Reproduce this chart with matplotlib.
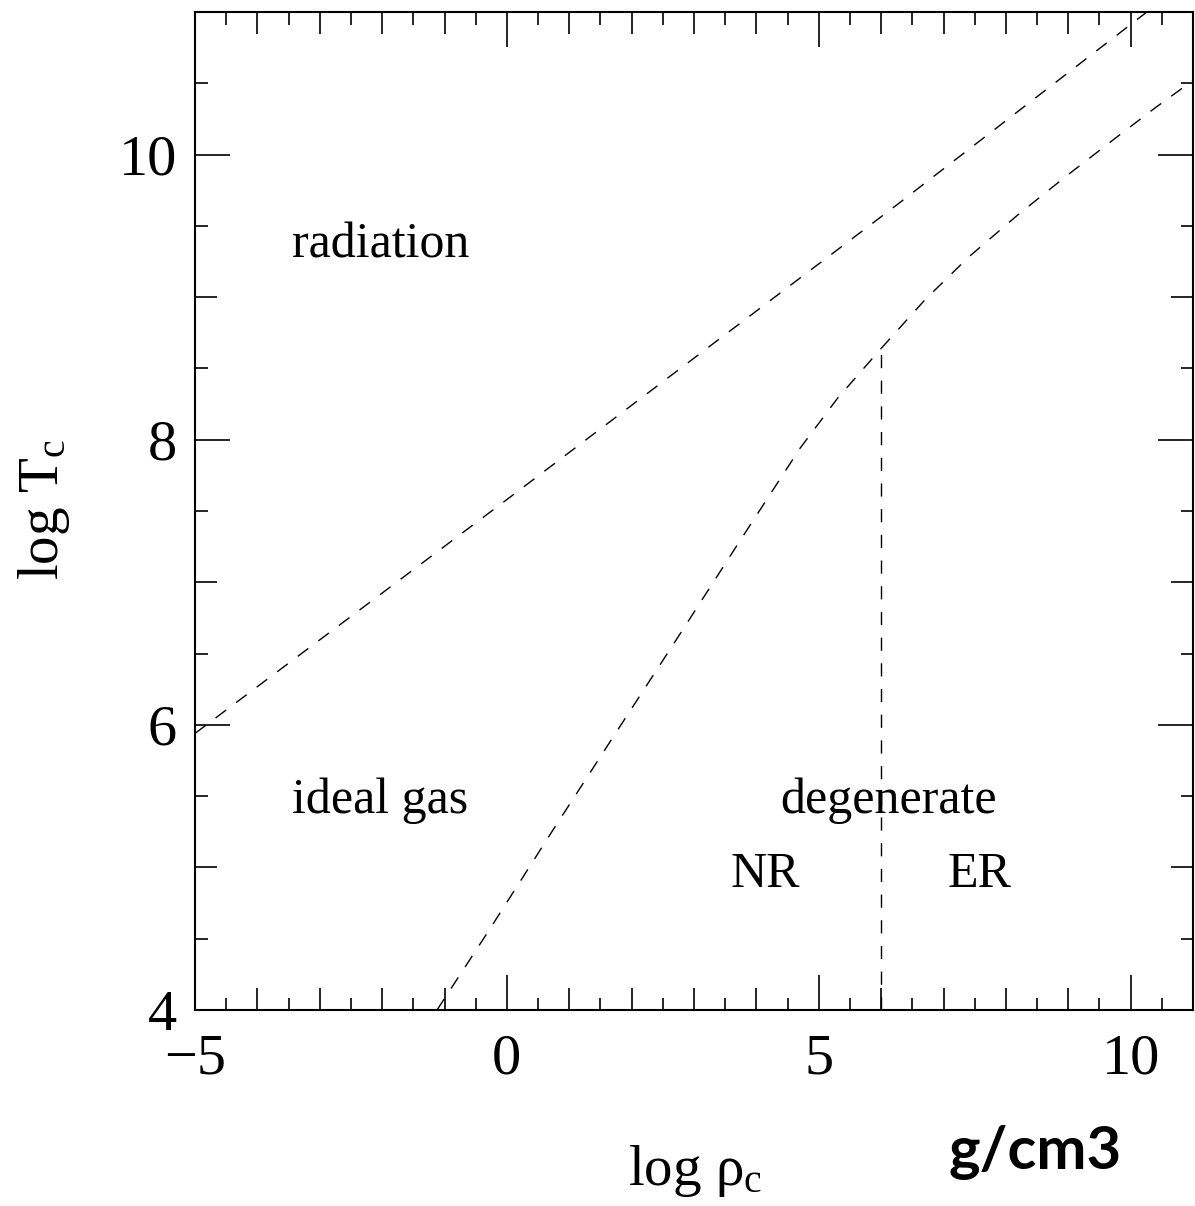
import matplotlib
matplotlib.use("Agg")
import matplotlib.pyplot as plt
from matplotlib.ticker import MultipleLocator, FuncFormatter

# boundaries (log rho_c, log T_c)
rad_x = [-5.0, 0.06, 6.23, 10.26]
rad_y = [5.94, 7.60, 9.64, 11.0]

nr_x = [-1.12, -0.3, 0.75, 1.8, 2.75, 3.75, 4.7, 5.3, 6.0]
nr_y = [4.0, 4.55, 5.27, 5.98, 6.62, 7.30, 7.94, 8.29, 8.64]

er_x = [6.0, 6.7, 7.4, 8.2, 9.0, 9.8, 10.4, 11.0]
er_y = [8.64, 8.98, 9.28, 9.58, 9.86, 10.13, 10.33, 10.52]

split_x = [6.0, 6.0]
split_y = [4.0, 8.64]

region_labels = ["radiation", "ideal gas", "degenerate", "NR", "ER"]
region_x = [-3.44, -3.44, 4.38, 3.58, 7.07]
region_y = [9.28, 5.38, 5.38, 4.86, 4.86]

plt.rcParams['font.family'] = ['Liberation Serif', 'DejaVu Serif']
plt.rcParams['mathtext.fontset'] = 'custom'
plt.rcParams['mathtext.rm'] = 'Liberation Serif'
plt.rcParams['mathtext.it'] = 'Liberation Serif'

fig = plt.figure(figsize=(11.95, 12.06), dpi=100)
ax = fig.add_axes([195 / 1195, 1 - 1010 / 1206, 998 / 1195, 998 / 1206])

style = dict(color='black', lw=1.0, dashes=(9.5, 9.0))
ax.plot(rad_x, rad_y, **style)
ax.plot(nr_x, nr_y, **style)
ax.plot(er_x, er_y, **style)
ax.plot(split_x, split_y, **style)

for txt, x, y in zip(region_labels, region_x, region_y):
    ax.text(x, y, txt, fontsize=36, ha='left', va='baseline')

ax.set_xlim(-5, 11)
ax.set_ylim(4, 11)

ax.xaxis.set_major_locator(MultipleLocator(1))
ax.xaxis.set_minor_locator(MultipleLocator(0.5))
ax.yaxis.set_major_locator(MultipleLocator(1))
ax.yaxis.set_minor_locator(MultipleLocator(0.5))

def fmt(step):
    def f(v, pos):
        if abs(v / step - round(v / step)) < 1e-6:
            return f"{int(round(v))}".replace("-", "\u2212")
        return ""
    return FuncFormatter(f)

ax.xaxis.set_major_formatter(fmt(5))
ax.yaxis.set_major_formatter(fmt(2))

ax.tick_params(which='both', direction='in', top=True, right=True, width=1.2)
ax.tick_params(which='minor', length=9)
ax.tick_params(which='major', length=16, labelsize=42)
ax.tick_params(axis='x', which='major', pad=17)
ax.tick_params(axis='y', which='major', pad=13)

# longer ticks at the labelled positions
for axis, step in ((ax.xaxis, 5), (ax.yaxis, 2)):
    locs = axis.get_majorticklocs()
    for tick, loc in zip(axis.get_major_ticks(), locs):
        if abs(loc / step - round(loc / step)) < 1e-6:
            tick.tick1line.set_markersize(25)
            tick.tick2line.set_markersize(25)

for s in ax.spines.values():
    s.set_linewidth(1.5)

ax.set_xlabel(r"log ρ$_{\mathrm{c}}$", fontsize=41)
ax.xaxis.set_label_coords(0.501, -0.133)
ax.set_ylabel(r"log T$_{\mathrm{c}}$", fontsize=41)
ax.yaxis.set_label_coords(-0.123, 0.501)

fig.text(1035 / 1195, 1 - 1152 / 1206, "g/cm3", fontsize=43, fontweight='bold',
         family=['Lato', 'DejaVu Sans'], ha='center', va='center')

fig.savefig("out.png", dpi=100)
